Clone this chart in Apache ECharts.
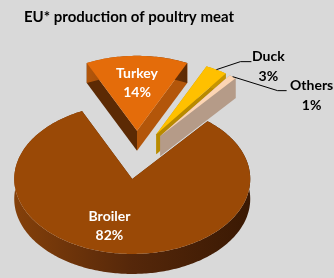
<!DOCTYPE html>
<html>
<head>
<meta charset="utf-8">
<script src="https://cdn.jsdelivr.net/npm/echarts@6/dist/echarts.min.js"></script>
<style>
  html, body { margin: 0; padding: 0; background: #d9d9d9; }
  #chart { width: 334px; height: 278px; }
</style>
</head>
<body>
<div id="chart"></div>
<script>
// data
const categories = ['Broiler', 'Turkey', 'Duck', 'Others'];
const shares = [82, 14, 3, 1];

// styles
const topColors = ['#9a4906', '#e46c0a', '#ffc000', '#fcd5b4'];
const startFaceColors = ['#5a2804', '#5c2a04', '#c69500', '#b59b88'];
const endFaceColors = ['#5a2804', '#b3560a', '#b88a00', '#b59b88'];
const wallColors = [['#84400a', '#55270a', '#3a1903'], ['#b3560a', '#8a4008', '#5c2a04'], ['#c69500', '#c69500', '#c69500'], ['#b59b88', '#b59b88', '#b59b88']];

// 3d pie geometry (px)
const cx = 137, cy = 155, rx = 118, ry = 75, depth = 20, explode = 38;
const startDeg = 39.6; // clockwise from 12 o'clock
const font = 'bold 14px Lato';

// label layout: inside labels sit on the top face, outside ones get a leader
const labelInside = [true, true, false, false];
const labelShift = [[-13, -2], [0, 2], [0, 0], [0, 0]];
const leaderElbow = [null, null, [24, -8], [45, 14]];
const leaderTail = [null, null, 11, 9];
const textGap = [null, null, 17, 25];

const total = shares.reduce((a, b) => a + b, 0);

function renderItem(params, api) {
	const i = params.dataIndex;
	let acc = 0;
	for (let k = 0; k < i; k++) acc += shares[k];
	const a0 = startDeg + acc / total * 360;
	const a1 = a0 + api.value(0) / total * 360;
	const mid = (a0 + a1) / 2 * Math.PI / 180;
	const ox = cx + explode * Math.sin(mid);
	const oy = cy - explode * Math.cos(mid) * ry / rx;
	const pt = (deg, dy) => {
		const t = deg * Math.PI / 180;
		return [ox + rx * Math.sin(t), oy - ry * Math.cos(t) + (dy || 0)];
	};
	const arc = (dy) => {
		const pts = [];
		const n = Math.max(2, Math.ceil(a1 - a0));
		for (let s = 0; s <= n; s++) pts.push(pt(a0 + (a1 - a0) * s / n, dy));
		return pts;
	};
	// back slices first
	const base = Math.round((1 - Math.cos(mid)) * 50);
	const children = [];
	children.push({
		type: 'polygon', z2: base,
		shape: { points: [[ox, oy], pt(a0), pt(a0, depth), [ox, oy + depth]] },
		style: { fill: startFaceColors[i] }
	});
	children.push({
		type: 'polygon', z2: base,
		shape: { points: [[ox, oy], pt(a1), pt(a1, depth), [ox, oy + depth]] },
		style: { fill: endFaceColors[i] }
	});
	const wc = wallColors[i];
	children.push({
		type: 'polygon', z2: base + 1,
		shape: { points: arc(0).concat(arc(depth).reverse()) },
		style: {
			fill: new echarts.graphic.LinearGradient(0, 0, 1, 0, [
				{ offset: 0, color: wc[0] }, { offset: 0.5, color: wc[1] }, { offset: 1, color: wc[2] }
			])
		}
	});
	children.push({
		type: 'polygon', z2: base + 2,
		shape: { points: [[ox, oy]].concat(arc(0)) },
		style: { fill: topColors[i] }
	});
	const labelText = categories[i] + '\n' + api.value(0) + '%';
	if (labelInside[i]) {
		const t = mid;
		children.push({
			type: 'text', z2: base + 3,
			style: {
				text: labelText,
				x: ox + rx * 0.66 * Math.sin(t) + labelShift[i][0],
				y: oy - ry * 0.66 * Math.cos(t) + labelShift[i][1],
				align: 'center', verticalAlign: 'middle',
				font: font, lineHeight: 19, fill: '#ffffff'
			}
		});
	} else {
		const p0 = pt(mid * 180 / Math.PI);
		const p1 = [p0[0] + leaderElbow[i][0], p0[1] + leaderElbow[i][1]];
		const p2 = [p1[0] + leaderTail[i], p1[1]];
		children.push({
			type: 'polyline', z2: 300,
			shape: { points: [p0, p1, p2] },
			style: { stroke: '#000', lineWidth: 1, fill: null }
		});
		children.push({
			type: 'text', z2: 300,
			style: {
				text: labelText,
				x: p2[0] + textGap[i], y: p2[1] + 5,
				align: 'center', verticalAlign: 'middle',
				font: font, lineHeight: 20, fill: '#000000'
			}
		});
	}
	return { type: 'group', children: children };
}

const chart = echarts.init(document.getElementById('chart'));
chart.setOption({
	backgroundColor: '#d9d9d9',
	animation: false,
	title: {
		text: 'EU* production of poultry meat',
		left: 19, top: 5,
		textStyle: { fontFamily: 'Lato', fontWeight: 'bold', fontSize: 15, color: '#000' }
	},
	series: [{
		type: 'custom',
		coordinateSystem: 'none',
		renderItem: renderItem,
		data: shares.map((v, i) => ({ name: categories[i], value: [v] }))
	}]
});
</script>
</body>
</html>
